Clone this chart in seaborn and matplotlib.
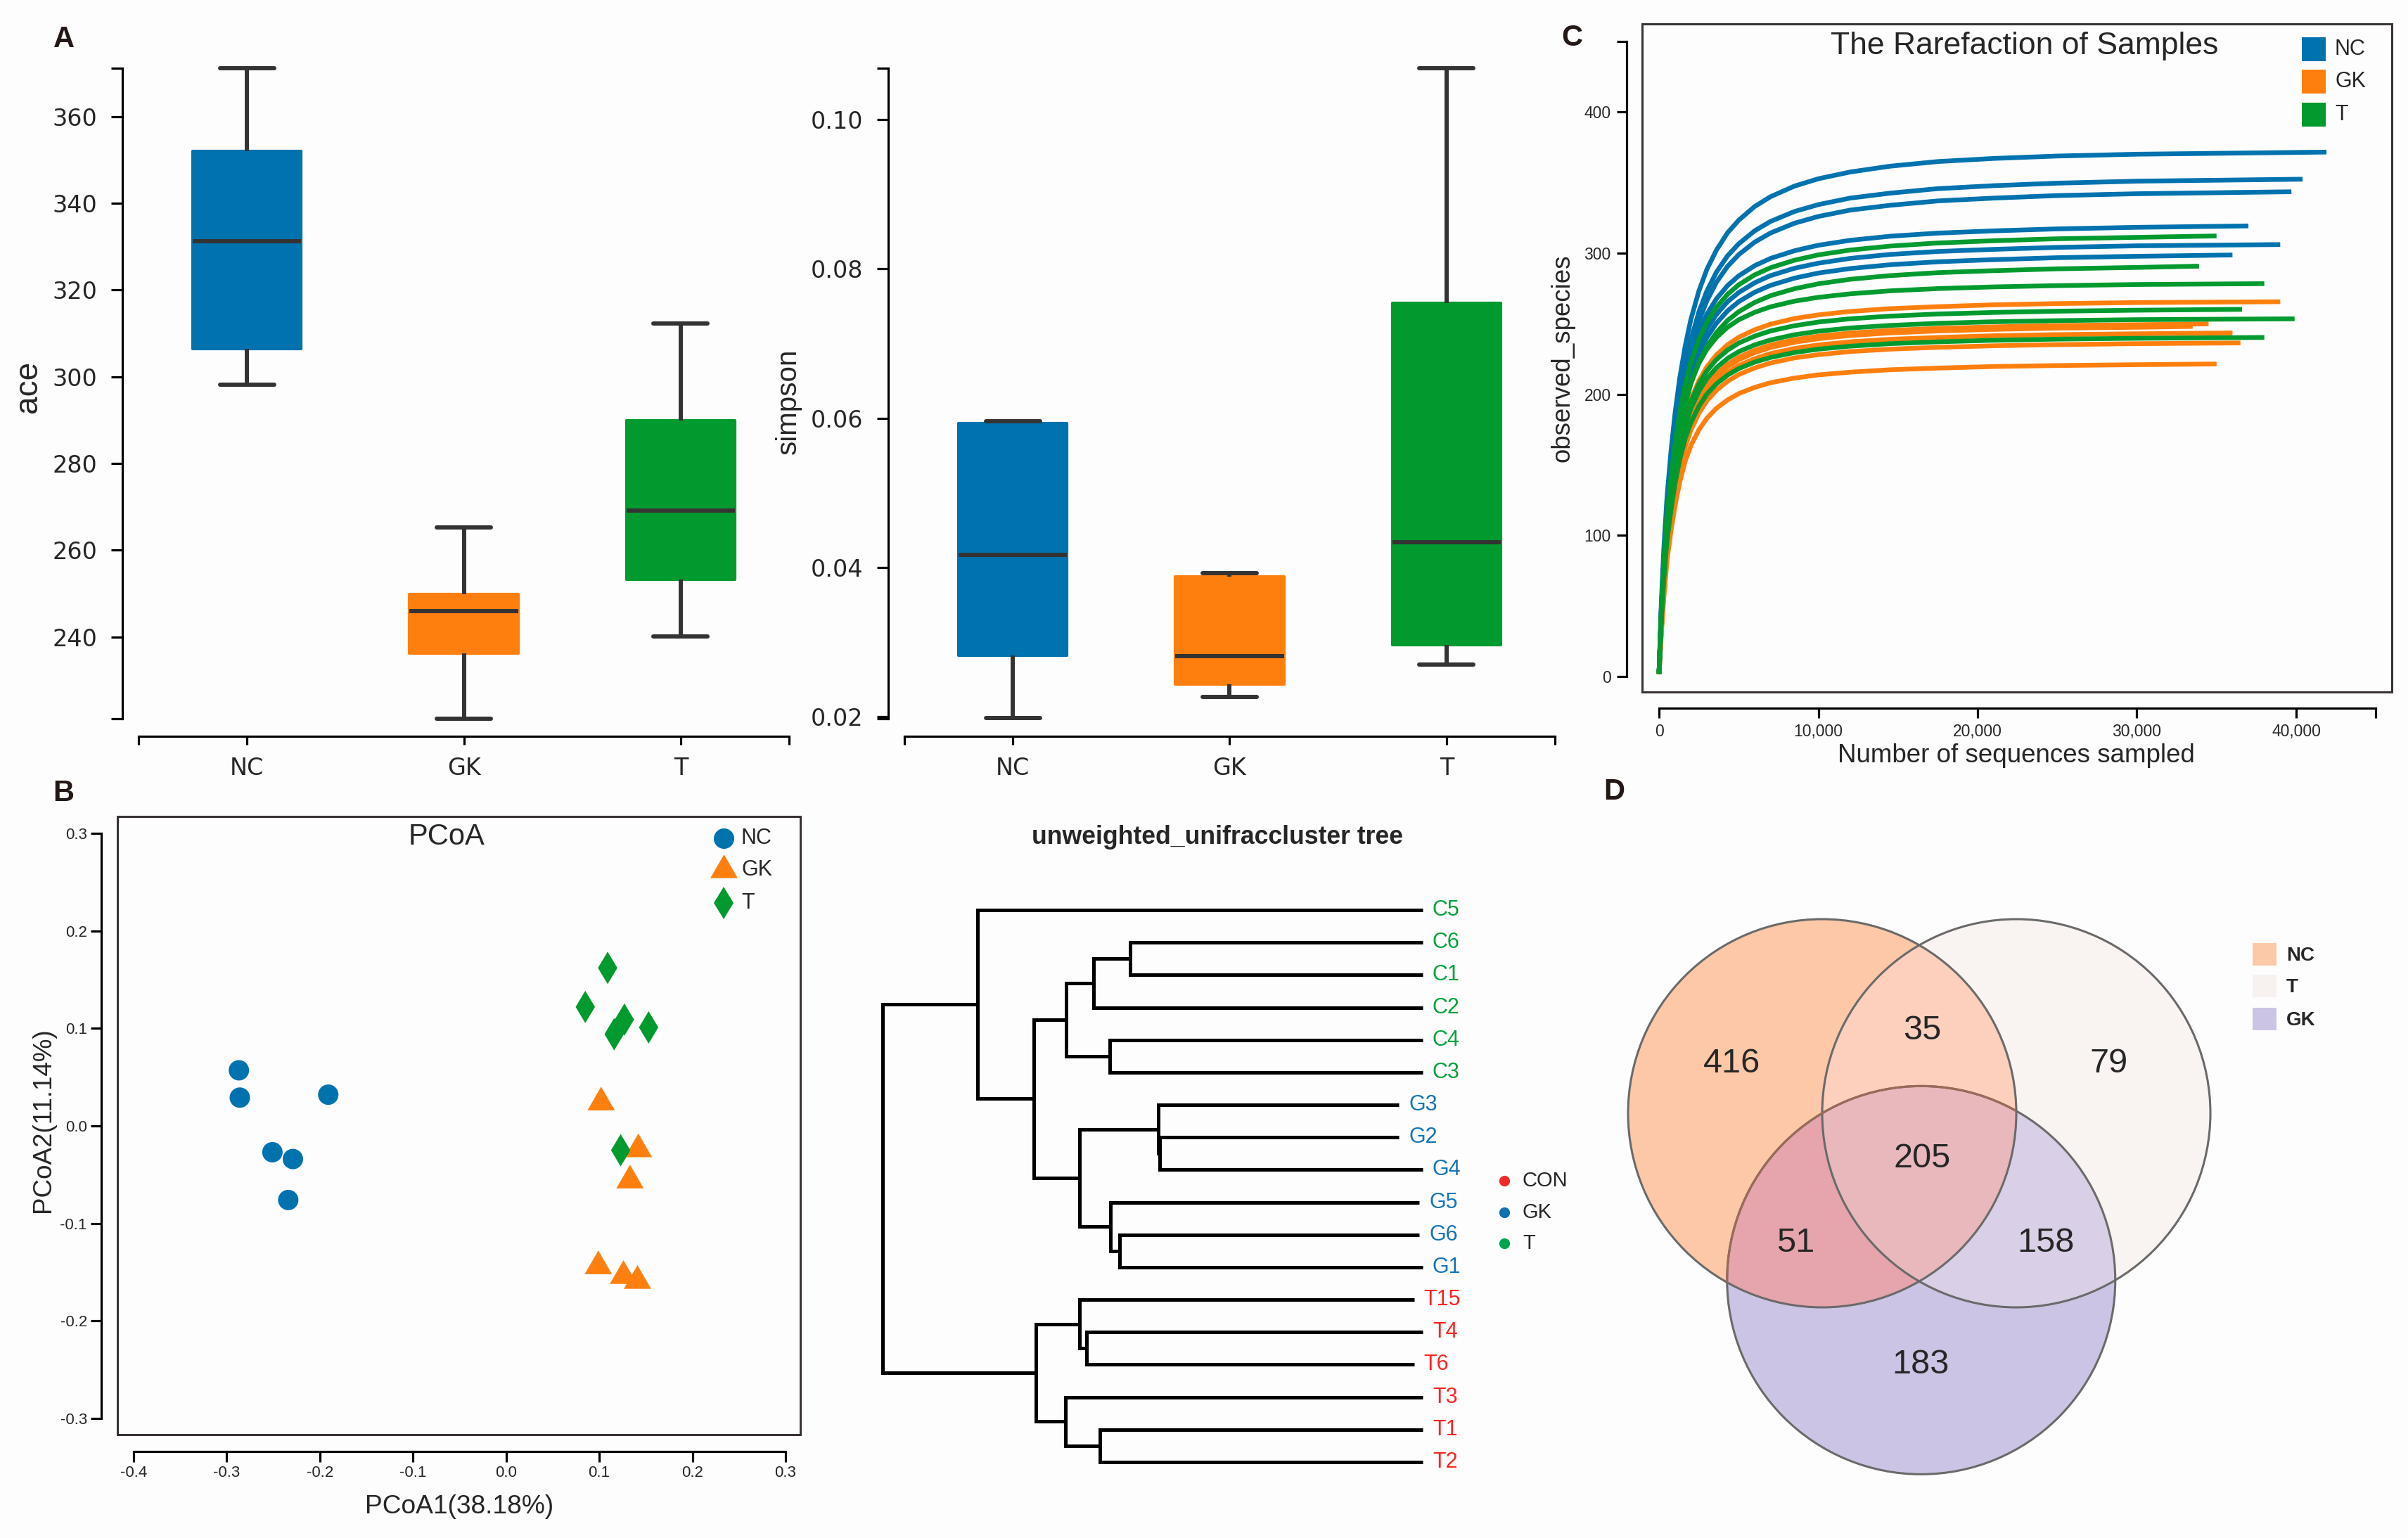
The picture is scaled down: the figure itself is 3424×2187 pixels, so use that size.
import numpy as np
import pandas as pd
import matplotlib
matplotlib.use("Agg")
import matplotlib.pyplot as plt
import seaborn as sns
from matplotlib.patches import Rectangle, Circle
from matplotlib.lines import Line2D

# ---------------- data ----------------
groups = ["NC", "GK", "T"]

# Panel A: five-number summaries (min, Q1, median, Q3, max)
ace_nc = [298.1, 306.5, 331.2, 352.0, 371.2]
ace_gk = [221.1, 236.3, 245.9, 249.8, 265.2]
ace_t = [240.1, 253.3, 269.1, 289.9, 312.3]
simpson_nc = [0.0198, 0.0282, 0.0417, 0.0593, 0.0596]
simpson_gk = [0.0227, 0.0244, 0.0281, 0.0388, 0.0392]
simpson_t = [0.0270, 0.0296, 0.0434, 0.0754, 0.1069]

# Panel C: rarefaction curves (observed species at sampled depths, last point = curve end)
rare_x = [0, 150, 300, 500, 750, 1000, 1300, 1650, 2000, 2500, 3000, 3600, 4300, 5000,
          6000, 7000, 8500, 10000, 12000, 14500, 17500, 21000, 25000, 30000]
nc_ends = [41900, 40400, 39700, 37000, 39000, 36000]
nc_curves = [
    [1.9, 54.0, 90.5, 127.0, 159.5, 186.0, 211.5, 234.5, 253.0, 273.0, 288.3, 302.0, 314.3, 323.2,
     332.9, 339.9, 347.4, 352.6, 357.4, 361.5, 364.8, 367.0, 368.7, 370.0, 371.5],
    [1.8, 49.3, 82.8, 116.3, 146.2, 170.9, 196.9, 220.2, 238.5, 258.2, 273.0, 286.4, 298.0, 306.5,
     315.7, 322.4, 329.4, 334.3, 338.9, 342.4, 345.6, 347.7, 349.5, 350.9, 352.3],
    [1.7, 48.1, 80.7, 113.3, 142.5, 166.5, 192.0, 214.6, 232.5, 251.7, 266.1, 279.2, 290.5, 298.8,
     307.7, 314.2, 321.1, 325.9, 330.4, 333.8, 336.9, 338.9, 340.7, 342.0, 343.4],
    [2.1, 49.5, 83.0, 116.5, 144.4, 168.1, 191.4, 211.9, 227.6, 244.2, 256.6, 267.5, 276.9, 283.8,
     291.0, 296.2, 301.6, 305.5, 309.0, 311.9, 314.1, 315.7, 317.1, 318.2, 319.2],
    [2.0, 47.4, 79.6, 111.7, 138.5, 161.1, 183.4, 203.2, 218.2, 234.1, 246.0, 256.4, 265.5, 272.0,
     278.9, 284.0, 289.2, 292.8, 296.2, 299.0, 301.1, 302.6, 304.0, 305.1, 306.0],
    [1.9, 46.3, 77.6, 109.0, 135.1, 157.2, 179.0, 198.3, 212.9, 228.4, 240.1, 250.2, 259.0, 265.5,
     272.2, 277.1, 282.2, 285.8, 289.0, 291.7, 293.8, 295.3, 296.7, 297.7, 298.6],
]
gk_ends = [39000, 34500, 33500, 36000, 36500, 35000]
gk_curves = [
    [2.1, 37.2, 66.4, 98.2, 123.5, 144.7, 165.1, 183.2, 196.2, 209.5, 219.3, 227.8, 235.0, 240.3,
     245.6, 249.6, 253.6, 256.2, 258.6, 260.6, 262.0, 263.3, 264.2, 264.9, 265.5],
    [2.0, 35.0, 62.5, 92.4, 116.2, 136.1, 155.4, 172.4, 184.6, 197.1, 206.3, 214.3, 221.1, 226.1,
     231.1, 234.8, 238.6, 241.1, 243.3, 245.2, 246.6, 247.7, 248.6, 249.2, 249.8],
    [2.0, 34.7, 62.0, 91.8, 115.3, 135.2, 154.3, 171.1, 183.3, 195.7, 204.8, 212.8, 219.5, 224.4,
     229.4, 233.1, 236.8, 239.3, 241.6, 243.4, 244.8, 245.9, 246.8, 247.4, 248.0],
    [1.9, 34.1, 60.9, 90.1, 113.2, 132.7, 151.4, 167.9, 179.9, 192.0, 201.0, 208.8, 215.4, 220.3,
     225.1, 228.8, 232.4, 234.9, 237.1, 238.9, 240.2, 241.4, 242.2, 242.8, 243.4],
    [1.9, 33.1, 59.1, 87.4, 109.9, 128.8, 147.0, 163.0, 174.6, 186.4, 195.2, 202.7, 209.1, 213.9,
     218.6, 222.1, 225.7, 228.0, 230.2, 231.9, 233.2, 234.3, 235.1, 235.8, 236.3],
    [1.8, 31.0, 55.4, 81.9, 103.0, 120.7, 137.7, 152.8, 163.6, 174.7, 182.9, 190.0, 195.9, 200.4,
     204.8, 208.1, 211.4, 213.7, 215.6, 217.3, 218.5, 219.6, 220.3, 220.9, 221.4],
]
t_ends = [35000, 33900, 38000, 36600, 39900, 38000]
t_curves = [
    [2.0, 48.4, 81.1, 113.9, 141.2, 164.3, 187.1, 207.2, 222.5, 238.8, 250.9, 261.5, 270.7, 277.5,
     284.5, 289.6, 294.9, 298.7, 302.1, 304.9, 307.1, 308.7, 310.1, 311.1, 312.1],
    [1.9, 45.1, 75.6, 106.1, 131.5, 153.1, 174.3, 193.0, 207.3, 222.4, 233.7, 243.6, 252.2, 258.4,
     265.0, 269.8, 274.7, 278.2, 281.4, 284.0, 286.1, 287.5, 288.8, 289.8, 290.7],
    [2.2, 47.3, 79.3, 111.3, 136.4, 158.1, 178.1, 195.6, 208.4, 221.8, 231.7, 240.2, 247.4, 252.7,
     258.0, 261.9, 265.9, 268.6, 271.1, 273.2, 274.8, 276.0, 276.9, 277.7, 278.3],
    [2.1, 44.2, 74.1, 104.0, 127.4, 147.7, 166.5, 182.9, 194.8, 207.3, 216.5, 224.5, 231.2, 236.2,
     241.1, 244.8, 248.5, 251.1, 253.4, 255.3, 256.8, 257.9, 258.8, 259.5, 260.1],
    [2.0, 43.1, 72.2, 101.4, 124.2, 143.9, 162.2, 178.1, 189.8, 202.0, 211.0, 218.7, 225.3, 230.1,
     234.9, 238.4, 242.1, 244.6, 246.9, 248.7, 250.2, 251.3, 252.1, 252.8, 253.4],
    [1.9, 40.8, 68.5, 96.1, 117.7, 136.4, 153.7, 168.9, 179.9, 191.4, 200.0, 207.3, 213.5, 218.1,
     222.7, 226.0, 229.5, 231.9, 234.0, 235.8, 237.1, 238.2, 239.0, 239.6, 240.2],
]

# Panel B: PCoA coordinates
pc1_nc = [-0.287, -0.286, -0.191, -0.251, -0.229, -0.234]
pc2_nc = [0.057, 0.029, 0.032, -0.027, -0.034, -0.076]
pc1_gk = [0.102, 0.142, 0.133, 0.099, 0.126, 0.141]
pc2_gk = [0.024, -0.024, -0.056, -0.144, -0.154, -0.159]
pc1_t = [0.109, 0.085, 0.127, 0.116, 0.153, 0.123]
pc2_t = [0.162, 0.122, 0.109, 0.094, 0.101, -0.025]

# Panel B right: cluster tree (leaf order top->bottom, branch depths, merges)
leaf_names = ["C5", "C6", "C1", "C2", "C4", "C3", "G3", "G2", "G4",
              "G5", "G6", "G1", "T15", "T4", "T6", "T3", "T1", "T2"]
leaf_depth = [1.0, 1.0, 1.0, 1.0, 1.0, 1.0, 0.956, 0.956, 1.0,
              0.994, 0.994, 1.0, 0.984, 1.0, 0.984, 1.0, 1.0, 1.0]
merges = [
    (1, 2, 0.4586), (18, 3, 0.3903), (4, 5, 0.4205), (19, 20, 0.3400),
    (7, 8, 0.5125), (6, 22, 0.5107), (10, 11, 0.4385), (9, 24, 0.4221),
    (23, 25, 0.3646), (21, 26, 0.2805), (0, 27, 0.1763),
    (13, 14, 0.3772), (12, 29, 0.3646), (16, 17, 0.4020), (15, 31, 0.3380),
    (30, 32, 0.2841), (28, 33, 0.0),
]
tree_legend = ["CON", "GK", "T"]

# Panel D: Venn counts
venn_sets = ["NC", "T", "GK"]
venn_regions = ["NC", "NC&T", "T", "NC&T&GK", "NC&GK", "T&GK", "GK"]
venn_counts = [416, 35, 79, 205, 51, 158, 183]

# ---------------- style ----------------
W, H = 3424, 2187
sns.set_theme(style="ticks")
plt.rcParams["font.family"] = ["Liberation Sans", "DejaVu Sans"]
plt.rcParams["axes.unicode_minus"] = False
BG = "#fdfdfd"
pal = {"NC": "#0072AE", "GK": "#FF7F0E", "T": "#009A2E"}
DARK = "#333333"
PT = 72 / 100.0  # px -> pt

fig = plt.figure(figsize=(W / 100, H / 100), dpi=100, facecolor=BG)


def add_ax(l, t, r, b):
    a = fig.add_axes([l / W, 1 - b / H, (r - l) / W, (b - t) / H])
    a.set_facecolor("none")
    return a


def ftext(x, y, s, **kw):
    fig.text(x / W, 1 - y / H, s, **kw)


def style_spines(ax, left_off, bottom_off, lw=2.3):
    for s in ["top", "right"]:
        ax.spines[s].set_visible(False)
    ax.spines["left"].set_position(("outward", left_off * PT))
    ax.spines["bottom"].set_position(("outward", bottom_off * PT))
    for s in ["left", "bottom"]:
        ax.spines[s].set_linewidth(lw)
        ax.spines[s].set_color("black")


# ---------------- Panel A: boxplots ----------------
def box_panel(ax, df, col, ylim, yticks, ylabels, bounds):
    sns.boxplot(data=df, x="group", y=col, hue="group", order=groups, hue_order=groups,
                palette=pal, saturation=1, width=0.5, whis=(0, 100), linecolor=DARK,
                linewidth=4.3, showfliers=False, legend=False, ax=ax)
    for p in ax.patches:
        p.set_edgecolor(p.get_facecolor())
        p.set_linewidth(3)
        p.set_joinstyle("round")
    ax.set_xlim(-0.5, 2.5)
    ax.set_ylim(*ylim)
    ax.set_xlabel("")
    ax.set_ylabel("")
    style_spines(ax, 23, 12)
    ax.spines["left"].set_bounds(*bounds)
    ax.spines["bottom"].set_bounds(-0.5, 2.5)
    ax.set_yticks(yticks)
    ax.set_yticklabels(ylabels, fontfamily="DejaVu Sans")
    ax.set_yticks(list(bounds), minor=True)
    ax.set_xticks([0, 1, 2])
    ax.set_xticklabels(groups, fontfamily="DejaVu Sans")
    ax.set_xticks([-0.5, 2.5], minor=True)
    ax.tick_params(axis="y", which="both", length=11.5, width=2.3, pad=14, labelsize=24,
                   direction="out", color="black")
    ax.tick_params(axis="x", which="both", length=8.6, width=2.3, pad=12, labelsize=24,
                   direction="out", color="black")


df_ace = pd.DataFrame({"group": np.repeat(groups, 5), "ace": ace_nc + ace_gk + ace_t})
axA1 = add_ax(197, 85.5, 1122, 1035.2)
box_panel(axA1, df_ace, "ace", (219, 373), [240, 260, 280, 300, 320, 340, 360],
          ["240", "260", "280", "300", "320", "340", "360"], (221.1, 371.2))

df_simp = pd.DataFrame({"group": np.repeat(groups, 5),
                        "simpson": simpson_nc + simpson_gk + simpson_t})
axA2 = add_ax(1286, 79.8, 2211, 1035.2)
box_panel(axA2, df_simp, "simpson", (0.0185, 0.1085), [0.02, 0.04, 0.06, 0.08, 0.10],
          ["0.02", "0.04", "0.06", "0.08", "0.10"], (0.0197, 0.1069))

ftext(40, 550, "ace", rotation=90, fontsize=33, ha="center", va="center")
ftext(1121, 571, "simpson", rotation=90, fontsize=29, ha="center", va="center")

# ---------------- Panel C: rarefaction ----------------
rows = []
for grp, ends, curves in [("NC", nc_ends, nc_curves), ("GK", gk_ends, gk_curves), ("T", t_ends, t_curves)]:
    for i, (e, vals) in enumerate(zip(ends, curves)):
        xs = rare_x + [e]
        for xv, yv in zip(xs, vals):
            rows.append({"x": xv, "y": yv, "group": grp, "sample": f"{grp}{i + 1}"})
df_rare = pd.DataFrame(rows)

axC = add_ax(2335, 34, 3401, 984)
sns.lineplot(data=df_rare, x="x", y="y", hue="group", hue_order=["NC", "GK", "T"],
             units="sample", estimator=None, palette=pal, lw=4.8, legend=False, ax=axC,
             solid_capstyle="butt", solid_joinstyle="round")
axC.set_xlim(-1060, 46005)
axC.set_ylim(-10.96, 462.3)
axC.set_xlabel("")
axC.set_ylabel("")
style_spines(axC, 22, 23)
axC.spines["left"].set_bounds(0, 450)
axC.spines["bottom"].set_bounds(0, 45000)
axC.set_yticks([0, 100, 200, 300, 400])
axC.set_yticks([450], minor=True)
axC.set_xticks([0, 10000, 20000, 30000, 40000])
axC.set_xticklabels(["0", "10,000", "20,000", "30,000", "40,000"])
axC.set_xticks([45000], minor=True)
axC.tick_params(which="both", length=10, width=2.3, pad=6, labelsize=16.5, direction="out",
                color="black")
axC.add_patch(Rectangle((0, 0), 1, 1, transform=axC.transAxes, fill=False, lw=2.2,
                        edgecolor="#3a3333", clip_on=False))
ftext(2879, 66, "The Rarefaction of Samples", fontsize=32, ha="center", va="center")
ftext(2222, 509, "observed_species", rotation=90, fontsize=26.4, ha="center", va="center")
ftext(2867, 1075, "Number of sequences sampled", fontsize=26.5, ha="center", va="center")
for lab, yc in zip(["NC", "GK", "T"], [70, 116, 163]):
    fig.add_artist(Rectangle((3273 / W, 1 - (yc + 17) / H), 34 / W, 34 / H,
                             transform=fig.transFigure, color=pal[lab], lw=0))
    ftext(3320, yc, lab, fontsize=22, ha="left", va="center")

# ---------------- Panel B: PCoA ----------------
df_pc = pd.DataFrame({
    "PC1": pc1_nc + pc1_gk + pc1_t,
    "PC2": pc2_nc + pc2_gk + pc2_t,
    "group": np.repeat(groups, 6),
})
tri = [(-1, -0.577), (1, -0.577), (0, 1.155), (-1, -0.577)]
marker_map = {"NC": "o", "GK": tri, "T": "d"}
size_map = {"NC": 436, "GK": 1050, "T": 548}
axB = add_ax(167, 1161, 1138, 2040)
sns.scatterplot(data=df_pc, x="PC1", y="PC2", hue="group", style="group", size="group",
                hue_order=groups, style_order=groups, size_order=groups,
                palette=pal, markers=marker_map, sizes=size_map, linewidth=0,
                legend=False, ax=axB)
axB.set_xlim(-0.4174, 0.3159)
axB.set_ylim(-0.3166, 0.3173)
axB.set_xlabel("")
axB.set_ylabel("")
style_spines(axB, 23, 24)
axB.spines["left"].set_bounds(-0.3, 0.3)
axB.spines["bottom"].set_bounds(-0.4, 0.3)
bx = [-0.4, -0.3, -0.2, -0.1, 0.0, 0.1, 0.2, 0.3]
by = [-0.3, -0.2, -0.1, 0.0, 0.1, 0.2, 0.3]
axB.set_xticks(bx)
axB.set_xticklabels([f"{v:.1f}" for v in bx])
axB.set_yticks(by)
axB.set_yticklabels([f"{v:.1f}" for v in by])
axB.tick_params(which="both", length=10.5, width=2.3, pad=4, labelsize=16, direction="out",
                color="black")
axB.add_patch(Rectangle((0, 0), 1, 1, transform=axB.transAxes, fill=False, lw=2.2,
                        edgecolor="#3a3333", clip_on=False))
ftext(635, 1190, "PCoA", fontsize=30, ha="center", va="center")
ftext(653, 2143, "PCoA1(38.18%)", fontsize=26.7, ha="center", va="center")
ftext(62, 1593, "PCoA2(11.14%)", rotation=90, fontsize=26.5, ha="center", va="center")
leg_marks = {"NC": ("o", 20.9), "GK": (tri, 32.4), "T": ("d", 23.4)}
for lab, yc in zip(groups, [1192, 1237, 1284]):
    mk, ms = leg_marks[lab]
    fig.add_artist(Line2D([1029 / W], [1 - yc / H], marker=mk, markersize=ms, color=pal[lab],
                          linestyle="", markeredgewidth=0, transform=fig.transFigure))
    ftext(1054, yc, lab, fontsize=22, ha="left", va="center")

# ---------------- Panel B right: cluster tree ----------------
axT = add_ax(1255, 1294, 2023, 2079)
axT.set_xlim(0, 1)
axT.set_ylim(len(leaf_names) - 1, 0)
axT.axis("off")
node_x = list(leaf_depth)
node_y = list(range(len(leaf_names)))
for a, b, d in merges:
    xa, ya, xb, yb = node_x[a], node_y[a], node_x[b], node_y[b]
    axT.plot([xa, d, d, xb], [ya, ya, yb, yb], color="black", lw=3.6,
             solid_joinstyle="miter", solid_capstyle="butt", clip_on=False)
    node_x.append(d)
    node_y.append((ya + yb) / 2)
leaf_col = {"C": "#00A23C", "G": "#1474B6", "T": "#FF2222"}
for i, (nm, dp) in enumerate(zip(leaf_names, leaf_depth)):
    axT.annotate(nm, (dp, i), xytext=(10, 0), textcoords="offset points", va="center",
                 ha="left", fontsize=22, color=leaf_col[nm[0]], annotation_clip=False)
ftext(1731, 1190, "unweighted_unifraccluster tree", fontsize=25.7, fontweight="bold",
      ha="center", va="center")
tree_leg_col = ["#F02A2A", "#1070B0", "#00A550"]
for lab, c, yc in zip(tree_legend, tree_leg_col, [1679, 1724, 1768]):
    fig.add_artist(Line2D([2139 / W], [1 - yc / H], marker="o", markersize=11, color=c,
                          linestyle="", markeredgewidth=0, transform=fig.transFigure))
    ftext(2165, yc, lab, fontsize=21, ha="left", va="center")

# ---------------- Panel D: Venn ----------------
axD = add_ax(2250, 1250, 3200, 2150)
xl = (-1.2355, 2.2065)
yl = (-2.0543, 1.2065)
axD.set_xlim(*xl)
axD.set_ylim(*yl)
axD.set_aspect("equal")
axD.axis("off")
centers = {"NC": (0.0, 0.0), "T": (1.0, 0.0), "GK": (0.51, -0.86)}
R = 1.0
gx = np.linspace(xl[0], xl[1], 1900)
gy = np.linspace(yl[0], yl[1], 1800)
GX, GY = np.meshgrid(gx, gy)
inside = {k: (GX - c[0]) ** 2 + (GY - c[1]) ** 2 <= R ** 2 for k, c in centers.items()}
code = inside["NC"] * 1 + inside["T"] * 2 + inside["GK"] * 4
lut = np.array([
    [0, 0, 0, 0],
    [252, 201, 168, 255],   # NC
    [249, 244, 242, 255],   # T
    [252, 209, 190, 255],   # NC&T
    [204, 196, 228, 255],   # GK
    [230, 165, 173, 255],   # NC&GK
    [217, 207, 230, 255],   # T&GK
    [233, 184, 190, 255],   # all
], dtype=float) / 255.0
axD.imshow(lut[code], extent=(xl[0], xl[1], yl[0], yl[1]), origin="lower",
           interpolation="antialiased", zorder=1)
for k in ["GK", "T", "NC"]:
    axD.add_patch(Circle(centers[k], R, fill=False, lw=2.2, edgecolor="#6a6a6a", zorder=3))
# GK outline seen through the NC fill looks brownish
nc_clip = Circle(centers["NC"], R, transform=axD.transData, fill=False, lw=0)
gk_inner = Circle(centers["GK"], R, fill=False, lw=2.2, edgecolor="#9a6a58", zorder=3.5)
axD.add_patch(gk_inner)
gk_inner.set_clip_path(nc_clip)
label_pos = {"NC": (-0.464, 0.257), "NC&T": (0.514, 0.424), "T": (1.478, 0.257),
             "NC&T&GK": (0.514, -0.232), "NC&GK": (-0.138, -0.670), "T&GK": (1.152, -0.670),
             "GK": (0.507, -1.297)}
for reg, cnt in zip(venn_regions, venn_counts):
    px_, py_ = label_pos[reg]
    axD.text(px_, py_, str(cnt), fontsize=35, ha="center", va="center", zorder=4)
venn_leg_col = {"NC": "#FCC9A8", "T": "#F7F2F0", "GK": "#CBC4E4"}
for lab, yc in zip(venn_sets, [1357, 1402, 1449]):
    fig.add_artist(Rectangle((3203 / W, 1 - (yc + 16) / H), 34 / W, 32 / H,
                             transform=fig.transFigure, color=venn_leg_col[lab], lw=0))
    ftext(3251, yc + 2, lab, fontsize=20, fontweight="bold", ha="left", va="center")

# ---------------- panel letters ----------------
for lab, (x, y) in {"A": (91, 56), "B": (90, 1128), "C": (2235, 54), "D": (2295, 1126)}.items():
    ftext(x, y, lab, fontsize=30, fontweight="bold", ha="center", va="center", color="#231815")

fig.savefig("out.png", dpi=100, facecolor=fig.get_facecolor())
